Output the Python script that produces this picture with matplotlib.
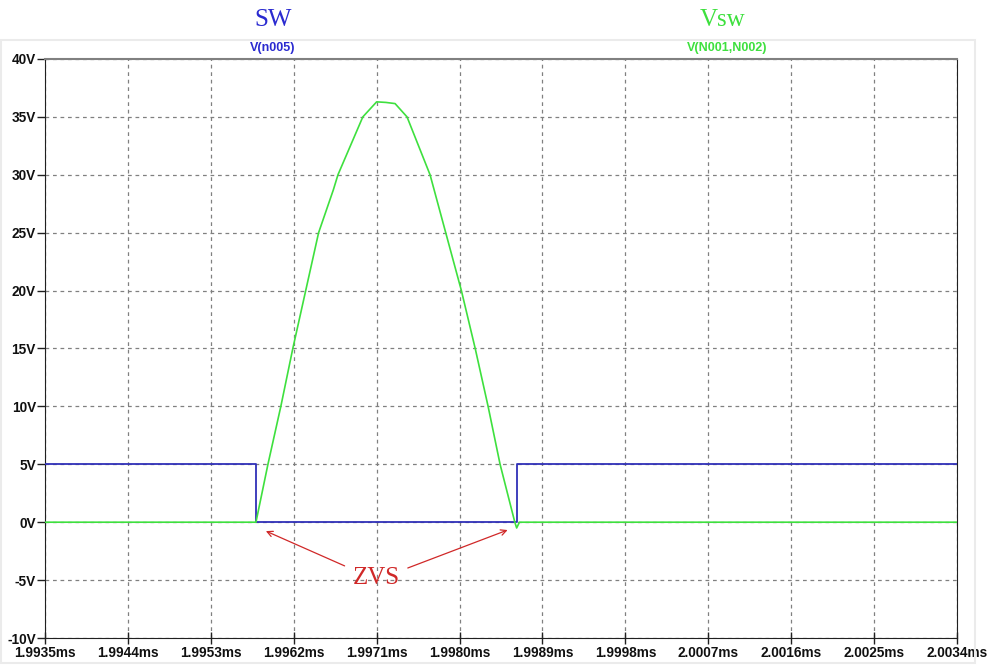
import numpy as np
import matplotlib.pyplot as plt

# SW: V(n005), switch gate drive (ms, V)
sw_t = [1.9935, 1.99579, 1.99579, 1.99862, 1.99862, 2.0034]
sw_v = [5, 5, 0, 0, 5, 5]

# Vsw: V(N001,N002), resonant switch voltage (ms, V)
vsw_t = [1.9935, 1.99579, 1.99592, 1.99606, 1.99619, 1.99633, 1.99647, 1.99663,
         1.99668, 1.99695, 1.99710, 1.99720, 1.99730, 1.99743, 1.99768, 1.99785,
         1.99802, 1.99817, 1.99831, 1.99844, 1.99860, 1.99862, 1.99865, 2.0034]
vsw_v = [0, 0, 5, 10, 15, 20, 25, 28.7,
         30, 35, 36.3, 36.25, 36.15, 35, 30, 25,
         20, 15, 10, 5, 0, -0.5, 0, 0]

xticks = [1.9935, 1.9944, 1.9953, 1.9962, 1.9971, 1.9980,
          1.9989, 1.9998, 2.0007, 2.0016, 2.0025, 2.0034]
yticks = [-10, -5, 0, 5, 10, 15, 20, 25, 30, 35, 40]

blue = '#3030b8'
green = '#3ee03e'
red = '#d02828'

fig = plt.figure(figsize=(9.91, 6.65), dpi=100)
ax = fig.add_axes([45/991, 1-638/665, 912/991, 579/665])

# faint pane border
fig.patches.append(plt.Rectangle((1/991, 2/665), 974/991, 623/665,
                                 transform=fig.transFigure, fill=False,
                                 edgecolor='#ebebeb', linewidth=1.5, zorder=0))

ax.plot(sw_t, sw_v, color=blue, linewidth=1.3, zorder=3)
ax.plot(vsw_t, vsw_v, color=green, linewidth=1.2, zorder=4)

ax.set_xlim(xticks[0], xticks[-1])
ax.set_ylim(-10, 40)
ax.set_xticks(xticks)
ax.set_xticklabels(['%.4fms' % t for t in xticks])
ax.set_yticks(yticks)
ax.set_yticklabels(['%dV' % v for v in yticks])
for lab in ax.get_xticklabels() + ax.get_yticklabels():
    lab.set_fontfamily('Liberation Sans')
    lab.set_fontweight('bold')
    lab.set_fontsize(9.8)
    lab.set_color('#101010')
ax.tick_params(axis='y', direction='out', length=6, width=1, pad=0.5, color='#202020')
ax.tick_params(axis='x', direction='inout', length=8, width=1, pad=2, color='#202020')

ax.grid(True, color='#808080', linestyle=(0, (3, 3)), linewidth=0.9)
for s in ['left', 'bottom', 'right']:
    ax.spines[s].set_color('#202020')
ax.spines['top'].set_color('#808080')
ax.spines['top'].set_linewidth(1.5)

# trace labels
fig.text(273/991, 1-20/665, 'SW', color='#2a2ad0', fontsize=18,
         family='Liberation Serif', ha='center', va='center')
fig.text(723/991, 1-20/665, 'Vsw', color=green, fontsize=18,
         family='Liberation Serif', ha='center', va='center')
fig.text(273/991, 1-48/665, 'V(n005)', color='#2a2ad0', fontsize=9,
         family='Liberation Sans', fontweight='bold', ha='center', va='center')
fig.text(727/991, 1-48/665, 'V(N001,N002)', color=green, fontsize=9,
         family='Liberation Sans', fontweight='bold', ha='center', va='center')

# ZVS annotation
ax.text(1.99710, -4.8, 'ZVS', color=red, fontsize=18, family='Liberation Serif',
        ha='center', va='center')
ax.annotate('', xy=(1.99587, -0.67), xytext=(1.99678, -3.87),
            arrowprops=dict(arrowstyle='->', color=red, linewidth=0.9))
ax.annotate('', xy=(1.99855, -0.59), xytext=(1.99741, -4.04),
            arrowprops=dict(arrowstyle='->', color=red, linewidth=0.9))

fig.savefig('out.png', dpi=100)
